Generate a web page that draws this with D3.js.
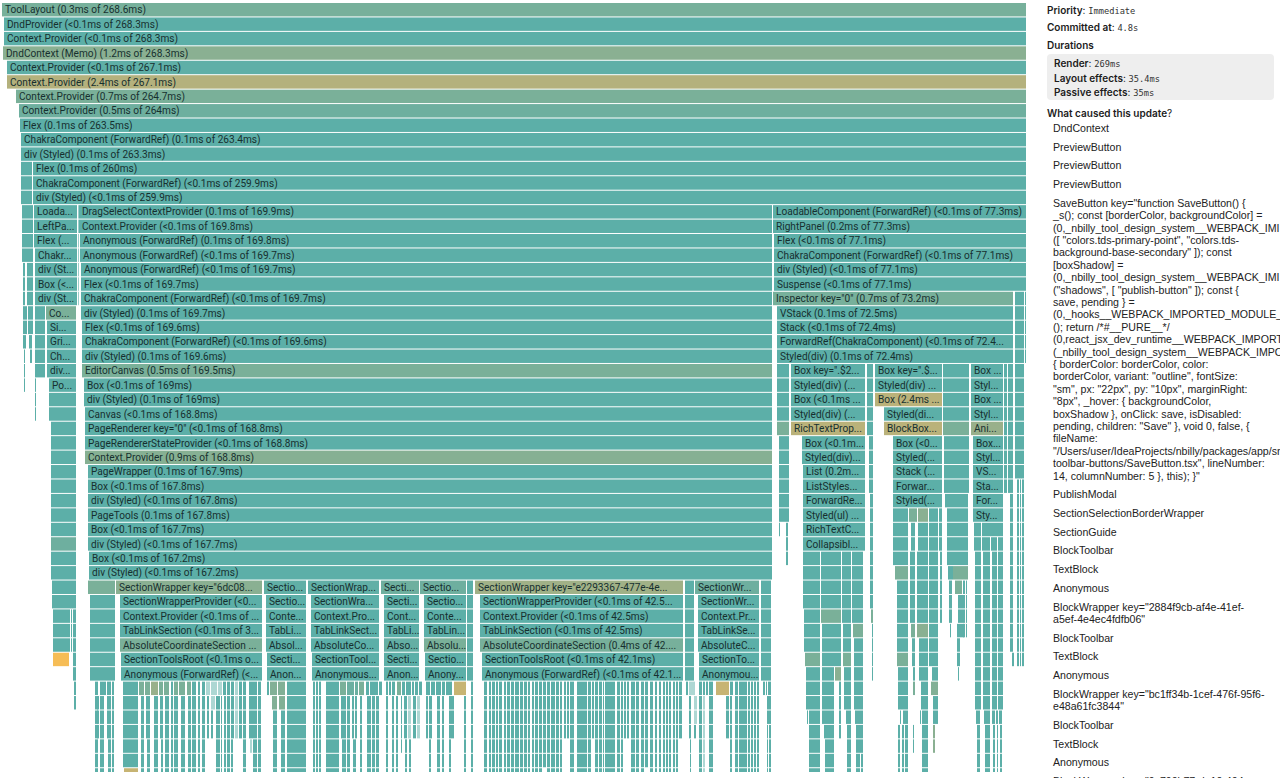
<!DOCTYPE html>
<html>
<head>
<meta charset="utf-8">
<script src="https://cdn.jsdelivr.net/npm/d3@7"></script>
<style>
  html, body { margin: 0; padding: 0; background: #fff; overflow: hidden; }
  .frameLabel { font-family: Roboto, "Liberation Sans", sans-serif; font-size: 10.1px; fill: #17302f; }
  .frames { filter: blur(0.3px); }
  .head { font-family: Inter, sans-serif; font-size: 10px; font-weight: 600; fill: #1c1c1c; }
  .mono { font-family: "DejaVu Sans Mono", monospace; font-size: 8.7px; font-weight: 400; fill: #333; }
  .cause { font-family: "Liberation Sans", Arial, sans-serif; font-size: 10.6px; fill: #222; }
</style>
</head>
<body>
<script>
// every frame: [row, start, base time, heat, label]  (base time units: root = 512)
var spineFrames = [
  [0, 0, 512, .18, "ToolLayout (0.3ms of 268.6ms)"],
  [1, 1, 511, 0, "DndProvider (<0.1ms of 268.3ms)"],
  [2, 1, 511, 0, "Context.Provider (<0.1ms of 268.3ms)"],
  [3, .5, 511.5, .3, "DndContext (Memo) (1.2ms of 268.3ms)"],
  [4, 2.5, 509.5, .02, "Context.Provider (<0.1ms of 267.1ms)"],
  [5, 2.5, 509.5, .58, "Context.Provider (2.4ms of 267.1ms)"],
  [6, 7, 505, .2, "Context.Provider (0.7ms of 264.7ms)"],
  [7, 8.5, 503.5, .12, "Context.Provider (0.5ms of 264ms)"],
  [8, 9, 503, 0, "Flex (0.1ms of 263.5ms)"],
  [9, 9.5, 502.5, 0, "ChakraComponent (ForwardRef) (0.1ms of 263.4ms)"],
  [10, 9.5, 502.5, 0, "div (Styled) (0.1ms of 263.3ms)"],
  [11, 15.5, 496.5, 0, "Flex (0.1ms of 260ms)"],
  [12, 15.5, 496.5, 0, "ChakraComponent (ForwardRef) (<0.1ms of 259.9ms)"],
  [13, 15.5, 496.5, 0, "div (Styled) (<0.1ms of 259.9ms)"]
];

var leftPanelFrames = [
  [14, 16, 21.5, 0, "Loada..."],
  [15, 16, 21.5, 0, "LeftPa..."],
  [16, 16, 21.5, 0, "Flex (..."],
  [17, 16.5, 21, 0, "Chakr..."],
  [18, 16.5, 21, 0, "div (St..."],
  [19, 16.5, 21, 0, "Box (<..."],
  [20, 16.5, 21, 0, "div (St..."],
  [21, 22, 15, .2, "Co..."],
  [22, 22.5, 14.5, 0, "Si..."],
  [23, 22.5, 14.5, 0, "Gri..."],
  [24, 22.5, 14.5, 0, "Ch..."],
  [25, 22.5, 14.5, 0, "div..."],
  [26, 23.5, 13.5, 0, "Po..."]
];

var canvasFrames = [
  [14, 38.5, 346.5, 0, "DragSelectContextProvider (0.1ms of 169.9ms)"],
  [15, 38.5, 346.5, 0, "Context.Provider (<0.1ms of 169.8ms)"],
  [16, 39, 346, 0, "Anonymous (ForwardRef) (0.1ms of 169.8ms)"],
  [17, 39, 346, 0, "Anonymous (ForwardRef) (<0.1ms of 169.7ms)"],
  [18, 39.5, 345.5, 0, "Anonymous (ForwardRef) (<0.1ms of 169.7ms)"],
  [19, 39.5, 345.5, 0, "Flex (<0.1ms of 169.7ms)"],
  [20, 39.5, 345.5, 0, "ChakraComponent (ForwardRef) (<0.1ms of 169.7ms)"],
  [21, 39.5, 345.5, 0, "div (Styled) (0.1ms of 169.7ms)"],
  [22, 40, 345, 0, "Flex (<0.1ms of 169.6ms)"],
  [23, 40, 345, 0, "ChakraComponent (ForwardRef) (<0.1ms of 169.6ms)"],
  [24, 40, 345, 0, "div (Styled) (0.1ms of 169.6ms)"],
  [25, 40, 345, .2, "EditorCanvas (0.5ms of 169.5ms)"],
  [26, 41, 344, 0, "Box (<0.1ms of 169ms)"],
  [27, 41, 344, 0, "div (Styled) (0.1ms of 169ms)"],
  [28, 41.5, 343.5, 0, "Canvas (<0.1ms of 168.8ms)"],
  [29, 41.5, 343.5, 0, "PageRenderer key=\"0\" (<0.1ms of 168.8ms)"],
  [30, 41.5, 343.5, 0, "PageRendererStateProvider (<0.1ms of 168.8ms)"],
  [31, 41.5, 343.5, .28, "Context.Provider (0.9ms of 168.8ms)"],
  [32, 43, 342, 0, "PageWrapper (0.1ms of 167.9ms)"],
  [33, 43, 342, 0, "Box (<0.1ms of 167.8ms)"],
  [34, 43, 342, 0, "div (Styled) (<0.1ms of 167.8ms)"],
  [35, 43, 342, 0, "PageTools (0.1ms of 167.8ms)"],
  [36, 43, 342, 0, "Box (<0.1ms of 167.7ms)"],
  [37, 43, 342, 0, "div (Styled) (<0.1ms of 167.7ms)"],
  [38, 43.5, 341.5, 0, "Box (<0.1ms of 167.2ms)"],
  [39, 43.5, 341.5, 0, "div (Styled) (<0.1ms of 167.2ms)"]
];

var sectionFrames = [
  [40, 57, 73, .3, "SectionWrapper key=\"6dc08..."],
  [41, 59, 71, 0, "SectionWrapperProvider (<0..."],
  [42, 59, 71, 0, "Context.Provider (<0.1ms of ..."],
  [43, 59, 71, 0, "TabLinkSection (<0.1ms of 3..."],
  [44, 59, 71, .2, "AbsoluteCoordinateSection ..."],
  [45, 59.5, 70.5, 0, "SectionToolsRoot (<0.1ms o..."],
  [46, 59.5, 70.5, 0, "Anonymous (ForwardRef) (<..."],
  [40, 131, 21, .03, "Sectio..."],
  [41, 132, 20, 0, "Sectio..."],
  [42, 132, 20, 0, "Conte..."],
  [43, 132, 20, 0, "TabLi..."],
  [44, 132, 20, 0, "Absol..."],
  [45, 132.5, 19.5, 0, "Secti..."],
  [46, 132.5, 19.5, 0, "Anon..."],
  [40, 153, 35.5, .03, "SectionWrap..."],
  [41, 154.5, 34, 0, "SectionWra..."],
  [42, 154.5, 34, 0, "Context.Pro..."],
  [43, 154.5, 34, 0, "TabLinkSect..."],
  [44, 154.5, 34, 0, "AbsoluteCo..."],
  [45, 155, 33.5, 0, "SectionTool..."],
  [46, 155, 33.5, 0, "Anonymous..."],
  [40, 189.5, 19, .12, "Secti..."],
  [41, 191, 17.5, 0, "Secti..."],
  [42, 191, 17.5, 0, "Cont..."],
  [43, 191, 17.5, 0, "TabLi..."],
  [44, 191, 17.5, .05, "Abso..."],
  [45, 191, 17.5, 0, "Secti..."],
  [46, 191, 17.5, 0, "Anon..."],
  [40, 209, 23, .12, "Sectio..."],
  [41, 211, 21, 0, "Sectio..."],
  [42, 211, 21, 0, "Conte..."],
  [43, 211, 21, 0, "TabLin..."],
  [44, 211, 21, .2, "Absolu..."],
  [45, 211.5, 20.5, 0, "Sectio..."],
  [46, 211.5, 20.5, 0, "Anony..."],
  [40, 236.5, 104, .45, "SectionWrapper key=\"e2293367-477e-4e..."],
  [41, 239, 101.5, 0, "SectionWrapperProvider (<0.1ms of 42.5..."],
  [42, 239, 101.5, 0, "Context.Provider (<0.1ms of 42.5ms)"],
  [43, 239, 101.5, 0, "TabLinkSection (<0.1ms of 42.5ms)"],
  [44, 239, 101.5, .18, "AbsoluteCoordinateSection (0.4ms of 42...."],
  [45, 240, 100.5, 0, "SectionToolsRoot (<0.1ms of 42.1ms)"],
  [46, 240, 100.5, 0, "Anonymous (ForwardRef) (<0.1ms of 42.1..."],
  [40, 346.5, 32, .12, "SectionWr..."],
  [41, 348, 30.5, 0, "SectionWr..."],
  [42, 348, 30.5, 0, "Context.Pr..."],
  [43, 348, 30.5, 0, "TabLinkSe..."],
  [44, 348, 30.5, 0, "AbsoluteC..."],
  [45, 348.5, 30, 0, "SectionTo..."],
  [46, 348.5, 30, 0, "Anonymou..."]
];

var inspectorFrames = [
  [14, 385.5, 126.5, 0, "LoadableComponent (ForwardRef) (<0.1ms of 77.3ms)"],
  [15, 385.5, 126.5, 0, "RightPanel (0.2ms of 77.3ms)"],
  [16, 386, 126, 0, "Flex (<0.1ms of 77.1ms)"],
  [17, 386, 126, 0, "ChakraComponent (ForwardRef) (<0.1ms of 77.1ms)"],
  [18, 386, 126, 0, "div (Styled) (<0.1ms of 77.1ms)"],
  [19, 386, 126, 0, "Suspense (<0.1ms of 77.1ms)"],
  [20, 385.5, 120, .18, "Inspector key=\"0\" (0.7ms of 73.2ms)"],
  [21, 387.5, 118, 0, "VStack (0.1ms of 72.5ms)"],
  [22, 387.5, 118, 0, "Stack (<0.1ms of 72.4ms)"],
  [23, 387.5, 118, 0, "ForwardRef(ChakraComponent) (<0.1ms of 72.4..."],
  [24, 387.5, 118, 0, "Styled(div) (0.1ms of 72.4ms)"],
  [25, 394.5, 37, 0, "Box key=\".$2..."],
  [26, 394.5, 37, 0, "Styled(div) (..."],
  [27, 394.5, 37, 0, "Box (<0.1ms ..."],
  [28, 394.5, 37, 0, "Styled(div) (..."],
  [29, 394.5, 37, .62, "RichTextProp..."],
  [30, 400, 31.5, 0, "Box (<0.1m..."],
  [31, 400, 31.5, 0, "Styled(div)..."],
  [32, 400.5, 31, 0, "List (0.2m..."],
  [33, 400.5, 31, 0, "ListStyles..."],
  [34, 400.5, 31, 0, "ForwardRe..."],
  [35, 400.5, 31, 0, "Styled(ul) ..."],
  [36, 400.5, 31, 0, "RichTextC..."],
  [37, 400.5, 31, 0, "Collapsibl..."],
  [25, 436.5, 33.5, 0, "Box key=\".$..."],
  [26, 436.5, 33.5, 0, "Styled(div) ..."],
  [27, 436.5, 33.5, .62, "Box (2.4ms ..."],
  [28, 441, 29, 0, "Styled(di..."],
  [29, 441, 29, .62, "BlockBox..."],
  [30, 445.5, 24.5, 0, "Box (<0..."],
  [31, 445.5, 24.5, 0, "Styled(..."],
  [32, 445.5, 24.5, 0, "Stack (..."],
  [33, 445.5, 24.5, 0, "Forwar..."],
  [34, 445.5, 24.5, 0, "Styled(..."],
  [25, 484.5, 16, 0, "Box ..."],
  [26, 484.5, 16, 0, "Styl..."],
  [27, 484.5, 16, 0, "Box ..."],
  [28, 484.5, 16, 0, "Styl..."],
  [29, 484.5, 16, .4, "Ani..."],
  [30, 485.5, 15, 0, "Box..."],
  [31, 485.5, 15, 0, "Styl..."],
  [32, 485.5, 15, 0, "VS..."],
  [33, 485.5, 15, 0, "Sta..."],
  [34, 485.5, 15, 0, "For..."],
  [35, 485.5, 15, 0, "Sty..."]
];

// frames too narrow for a label: [first row, last row, start, base time, heat]
var leftStubs = [
  [11, 13, 9.5, 5.5], [14, 17, 10, 5.5], [18, 20, 10.5, 1], [18, 20, 12.5, 3],
  [21, 22, 10.5, 2], [21, 22, 13, 2.5], [23, 23, 10.5, 1.5], [23, 23, 13.5, 1.5],
  [24, 26, 11, .5], [24, 24, 14, 1], [21, 25, 16.5, 5], [26, 28, 16.5, .5],
  [27, 28, 23.5, 13.5], [29, 36, 24.5, 12.5], [37, 37, 24.5, 12.5, .12], [38, 39, 24.5, 12.5],
  [40, 41, 25, 12], [42, 44, 25.5, 8.5], [42, 44, 34.5, .5], [42, 46, 35.5, 1.5],
  [47, 48, 36, 1], [45, 45, 25.5, 8, 1],
  [14, 20, 38, .3], [40, 40, 43, 13.5, .2], [41, 46, 44, 12.5], [40, 46, 232.5, 3],
  [40, 46, 341.5, 4.5], [40, 46, 379.5, 5]
];

var sectionOneComb = [
  [47, 53, 46.5, 1.5], [48, 50, 47.5, 1], [47, 53, 49, 2], [47, 47, 51, 1], [47, 50, 52.5, 2],
  [51, 53, 53, 1.5], [47, 53, 55, 1],
  [47, 52, 60.5, 7.5], [53, 53, 61, 7, .7],
  [47, 47, 68.5, 2.5, .2], [48, 53, 69.5, 1.5], [47, 47, 71.5, 2.5, .2], [48, 50, 72, 2], [51, 53, 72.5, 1.5],
  [47, 47, 74.5, 3.5, .4], [48, 53, 76, 2], [47, 47, 78.5, 2, .2], [48, 50, 79, 1.5], [51, 53, 79.5, 1],
  [47, 47, 81, 2.5, .2], [48, 53, 81.5, 2], [47, 53, 84.5, 1], [47, 47, 86, 2, .2], [48, 53, 86, 2],
  [47, 47, 88.5, 3, .2], [48, 53, 89.5, 2], [47, 47, 92.5, 2, .2], [48, 53, 93, 1.5],
  [47, 53, 95, 2], [47, 53, 98, 1], [47, 53, 100, 1.5],
  [48, 50, 102.5, 1], [49, 50, 104.5, 1], [48, 53, 107, 2], [48, 53, 109.5, .5], [48, 53, 111, 1],
  [47, 53, 112.5, 1.5], [47, 50, 114.5, 1.5], [51, 53, 114.5, 1], [47, 47, 110.5, 1.5],
  [47, 50, 118.5, 1.5], [47, 53, 120.5, 1.5], [47, 50, 123.5, 4], [51, 53, 125.5, 2], [47, 53, 128, 1.5],
  [47, 47, 132.5, 1], [47, 47, 134, 3.5, .25], [47, 47, 138, 3.5, .25], [47, 53, 142.5, 9.5],
  [48, 48, 135, 2.5, .25], [48, 48, 138.5, 3, .25], [49, 53, 135.5, 2], [49, 53, 139.5, 2]
];

var sectionTwoComb = [
  [47, 53, 155.5, 1], [47, 53, 157, 1], [47, 53, 158.5, 1], [47, 53, 162, 6.5],
  [47, 47, 169, 3, .2], [47, 47, 172.5, 2, .1], [47, 47, 174.5, 1.5, .1], [47, 47, 176.5, 1.5, .1],
  [47, 47, 178.5, 2.5, .2], [47, 47, 182, 1.5], [47, 47, 184, 2], [47, 47, 186, 2], [47, 47, 188.5, 1.5],
  [48, 50, 169.5, 2.5], [48, 53, 172.5, 1.5], [48, 50, 175, 1], [48, 50, 176.5, 1], [48, 53, 179, 1],
  [48, 53, 182.5, 2], [48, 53, 185, 1.5], [48, 53, 187, 1.5], [51, 53, 170, 2], [51, 53, 175.5, 1.5],
  [47, 53, 192, 1], [47, 47, 193.5, 1], [47, 47, 195, 1.5], [47, 47, 197.5, 2, .2], [47, 47, 200, 1.5],
  [47, 47, 202, 2.5], [47, 47, 205, 1], [47, 47, 206.5, 1.5], [47, 47, 208.5, 1.5],
  [48, 53, 195, 1], [48, 53, 197, 1], [48, 51, 199.5, .5], [48, 50, 201, 1.5], [51, 53, 201.5, 1],
  [51, 53, 203.5, 1], [48, 50, 205.5, 1.5],
  [47, 47, 212, 2], [47, 47, 214.5, 2], [47, 47, 217, 1], [47, 47, 218, 1.5], [47, 47, 220, 1.5],
  [47, 47, 222, 3], [47, 47, 226, 6, .7], [48, 50, 212, 1], [48, 50, 213.5, 1.5], [48, 53, 217.5, 1.5],
  [48, 53, 220, 1], [48, 50, 223.5, 2.5], [48, 53, 231, 1], [51, 53, 213.5, 1], [51, 53, 223.5, 1],
  [47, 53, 234.5, 1]
];

var sectionThreeComb = [
  [47, 53, 241, 1.5], [47, 53, 243.5, 1], [47, 53, 245, 1.5], [47, 53, 247, 1], [47, 53, 248.5, 1.5],
  [47, 53, 251, 1], [47, 53, 252.5, 1.5], [47, 53, 254.5, 1.5], [47, 53, 256.5, 2], [47, 53, 259, 1.5],
  [47, 53, 261, 1.5], [47, 53, 263, 1], [47, 53, 265, 1], [47, 53, 266.5, 1.5], [47, 53, 268.5, 1.5],
  [47, 52, 270.5, 1.5], [47, 53, 272.5, 1.5], [47, 53, 274.5, 2], [47, 53, 277, 1.5], [47, 53, 279, 1],
  [47, 50, 281, 1], [47, 50, 282.5, 1], [47, 53, 284, 1], [47, 53, 285, 1], [47, 53, 287.5, 5],
  [47, 53, 293, 1.5], [47, 50, 295, 1], [47, 53, 296.5, 1.5], [47, 53, 298.5, 1.5], [47, 53, 300.5, .5],
  [47, 53, 301.5, 5], [47, 53, 307.5, 1.5], [47, 53, 309.5, 1], [47, 50, 311, 1], [47, 50, 312.5, 1],
  [47, 53, 314.5, 2], [47, 53, 317, 1.5], [47, 53, 319.5, 1.5], [47, 52, 321.5, 1.5], [47, 53, 324, 1.5],
  [47, 53, 326.5, 1], [47, 53, 328.5, 1], [47, 53, 330.5, 1], [47, 53, 332, 1], [47, 53, 333.5, 1],
  [47, 53, 335.5, 1], [47, 53, 337, 1], [47, 50, 338.5, 1.5],
  [47, 47, 342, 1], [48, 50, 343.5, 1], [51, 53, 344, .5], [50, 50, 346, 1],
  [47, 53, 348.5, 1.5], [47, 47, 350.5, 1], [47, 47, 352, 1], [47, 53, 353.5, 2], [47, 47, 357, 6.5, .7],
  [47, 47, 364, 1.5], [48, 53, 364, 1], [47, 53, 366.5, 1.5], [47, 53, 368.5, 4], [47, 53, 373, 1],
  [47, 53, 374.5, 1], [47, 53, 376, 1], [47, 53, 377.5, 1], [48, 50, 362, 1.5],
  [47, 47, 380.5, 1], [47, 47, 382, .5], [47, 49, 383, 1.5], [48, 49, 382.5, .5], [50, 53, 382.5, .5], [50, 53, 383.5, 1]
];

// blurred-looking hairline frames, drawn paler
var paleComb = [
  [47, 47, 102, 2], [47, 47, 104.5, 3], [48, 48, 104.5, 2], [47, 47, 108, 2], [47, 47, 116.5, 1.5],
  [48, 50, 116.5, 1.5], [51, 51, 124, 1], [48, 50, 203, 1.5], [48, 50, 207.5, 1.5],
  [47, 47, 343.5, 3], [48, 49, 346, 1.5], [48, 50, 350.5, 1], [51, 53, 350.5, 1]
];

var inspectorStubs = [
  [25, 28, 387.5, 6], [29, 29, 387.5, 6, .2], [30, 35, 388.5, 5], [36, 36, 388.5, .5], [36, 38, 392, 1],
  [38, 41, 400.5, 8.5], [42, 44, 401, 8], [45, 45, 401.5, 7.5, .2], [46, 48, 402, 7], [49, 53, 403.5, 5.5], [49, 49, 402.5, .5],
  [38, 41, 409.5, 10], [42, 42, 409.5, 10, .2], [43, 45, 410, 9.5], [46, 48, 410, 6], [46, 46, 416.5, 3, .3],
  [47, 50, 418.5, 1], [49, 49, 410, 6], [50, 50, 411, 5], [51, 53, 411.5, 4.5],
  [38, 42, 420, 4.5], [43, 44, 420.5, 4], [45, 45, 420.5, 4, .2], [46, 48, 421, 3.5], [49, 49, 422, 2.5], [50, 53, 422.5, 2],
  [38, 42, 425, 5.5], [43, 43, 425.5, 5, .2], [44, 48, 426, 4.5], [49, 49, 426.5, 4], [50, 51, 427, 3.5], [52, 53, 427, 2], [52, 53, 429.5, 1],
  [25, 29, 432.5, 3], [30, 33, 433.5, 2], [34, 41, 434, 1.5], [42, 42, 434.5, 1, .2], [43, 46, 435, .5],
  [35, 38, 445.5, 7.5], [39, 39, 446.5, 6.5, .2], [40, 44, 447.5, 5.5], [45, 45, 447.5, 5.5, .2], [46, 48, 448, 5],
  [49, 49, 449, .5], [49, 49, 450.5, 2.5], [50, 53, 448, 1], [50, 53, 450, 1], [50, 53, 451.5, 1.5],
  [35, 35, 453.5, 4, .2], [36, 37, 454.5, 2], [38, 42, 454, 2.5], [43, 43, 454.5, 2, .2], [44, 45, 455, 1.5],
  [46, 46, 455.5, 1], [47, 47, 455.5, 1, .2], [50, 51, 455.5, .5],
  [35, 35, 458, 5, .3], [36, 37, 458, 5], [38, 42, 457.5, 5.5], [43, 43, 457.5, 5.5, .3], [44, 46, 458.5, 4.5],
  [47, 48, 459.5, 3.5], [49, 49, 459, .5], [49, 53, 460, 3],
  [35, 45, 463.5, 4.5], [46, 46, 465, 3], [47, 47, 464.5, 3.5, .25], [48, 49, 465.5, 2.5], [50, 51, 465.5, 1, .3],
  [35, 37, 468.5, 1.5], [38, 42, 469, 1],
  [25, 28, 470.5, 13], [29, 29, 470.5, 13, .2], [30, 33, 471, 12.5], [34, 34, 471.5, 1], [34, 38, 472.5, 10.5],
  [39, 39, 473, 2.5], [39, 39, 475.5, 7.5, .2], [40, 42, 473.5, 1.5], [40, 40, 476.5, 3.5, .2], [41, 42, 478, 2.5],
  [43, 43, 474, .5], [43, 43, 477.5, 3.5], [44, 45, 477.5, 1.5], [46, 46, 478, .5], [40, 43, 480.5, 1], [40, 43, 482, .5],
  [36, 37, 486, 3.5], [38, 48, 486.5, 3], [49, 49, 487, 2], [50, 53, 487.5, 1.5],
  [36, 36, 490, 10.5], [37, 37, 490, 4], [38, 48, 490.5, 3.5], [49, 49, 491, 3], [50, 53, 491.5, 2.5],
  [37, 37, 494.5, 3], [38, 48, 495, 2.5], [49, 49, 495, 1.5], [50, 53, 495.5, 1],
  [37, 48, 498, 2.5], [49, 49, 497, 1], [50, 53, 497.5, .5], [49, 49, 498.5, 1.5], [50, 53, 499, 1],
  [25, 33, 501, 1.5], [25, 33, 503, 2.5], [34, 44, 504, 1.5], [45, 45, 505, 1],
  [20, 32, 506.5, 4.5], [33, 45, 507.5, 1], [33, 45, 509, .5], [33, 45, 510, 1], [20, 24, 511.5, .5]
];

var commitInfo = [
  ["Priority", "Immediate"],
  ["Committed at", "4.8s"]
];
var durations = [
  ["Render", "269ms"],
  ["Layout effects", "35.4ms"],
  ["Passive effects", "35ms"]
];

// one inner list per update cause, one string per wrapped line
var causes = [
  ["DndContext"],
  ["PreviewButton"],
  ["PreviewButton"],
  ["PreviewButton"],
  ["SaveButton key=\"function SaveButton() {",
   "_s(); const [borderColor, backgroundColor] =",
   "(0,_nbilly_tool_design_system__WEBPACK_IMI",
   "([ \"colors.tds-primary-point\", \"colors.tds-",
   "background-base-secondary\" ]); const",
   "[boxShadow] =",
   "(0,_nbilly_tool_design_system__WEBPACK_IMI",
   "(\"shadows\", [ \"publish-button\" ]); const {",
   "save, pending } =",
   "(0,_hooks__WEBPACK_IMPORTED_MODULE_",
   "(); return /*#__PURE__*/",
   "(0,react_jsx_dev_runtime__WEBPACK_IMPORT",
   "(_nbilly_tool_design_system__WEBPACK_IMPO",
   "{ borderColor: borderColor, color:",
   "borderColor, variant: \"outline\", fontSize:",
   "\"sm\", px: \"22px\", py: \"10px\", marginRight:",
   "\"8px\", _hover: { backgroundColor,",
   "boxShadow }, onClick: save, isDisabled:",
   "pending, children: \"Save\" }, void 0, false, {",
   "fileName:",
   "\"/Users/user/IdeaProjects/nbilly/packages/app/sr",
   "toolbar-buttons/SaveButton.tsx\", lineNumber:",
   "14, columnNumber: 5 }, this); }\""],
  ["PublishModal"],
  ["SectionSelectionBorderWrapper"],
  ["SectionGuide"],
  ["BlockToolbar"],
  ["TextBlock"],
  ["Anonymous"],
  ["BlockWrapper key=\"2884f9cb-af4e-41ef-", "a5ef-4e4ec4fdfb06\""],
  ["BlockToolbar"],
  ["TextBlock"],
  ["Anonymous"],
  ["BlockWrapper key=\"bc1ff34b-1cef-476f-95f6-", "e48a61fc3844\""],
  ["BlockToolbar"],
  ["TextBlock"],
  ["Anonymous"],
  ["BlockWrapper key=\"9c790b77-da10-404a-"]
];

var svg = d3.select("body").append("svg")
    .attr("width", 1280)
    .attr("height", 778)
    .style("display", "block");

svg.append("clipPath").attr("id", "chartClip")
    .append("rect").attr("width", 1040).attr("height", 772);

var chartGroup = svg.append("g").attr("clip-path", "url(#chartClip)");

//Create scale functions
var rowCount = 54;
var rowStep = 14.42;
var xScale = d3.scaleLinear().domain([0, 512]).range([2, 1026]);
var yScale = d3.scaleBand()
    .domain(d3.range(rowCount))
    .range([3, 3 + rowCount * rowStep])
    .paddingInner(1 / rowStep)
    .paddingOuter(0)
    .align(0);
var heatScale = d3.scaleLinear()
    .domain([0, .6, 1])
    .range(["#5cafa8", "#b7b17c", "#f6bd56"]);

//Expand stub and comb runs into one frame per row
function expand(list, pale) {
    var out = [];
    list.forEach(function(d) {
        d3.range(d[0], d[1] + 1).forEach(function(row) {
            out.push({row: row, start: d[2], time: d[3], heat: d[4] || 0, pale: pale});
        });
    });
    return out;
}

var labelled = [].concat(spineFrames, leftPanelFrames, canvasFrames, sectionFrames, inspectorFrames)
    .map(function(d) {
        return {row: d[0], start: d[1], time: d[2], heat: d[3], label: d[4]};
    });

var frames = labelled.concat(
    expand(leftStubs), expand(sectionOneComb), expand(sectionTwoComb),
    expand(sectionThreeComb), expand(inspectorStubs), expand(paleComb, true));

chartGroup.append("g").attr("class", "frames").selectAll("rect")
    .data(frames)
    .enter()
    .append("rect")
    .attr("x", d => xScale(d.start))
    .attr("y", d => yScale(d.row))
    .attr("width", d => xScale(d.start + d.time) - xScale(d.start))
    .attr("height", yScale.bandwidth())
    .attr("fill", d => heatScale(d.heat))
    .attr("fill-opacity", d => d.pale ? .5 : 1);

chartGroup.append("g").selectAll("text")
    .data(labelled)
    .enter()
    .append("text")
    .attr("class", "frameLabel")
    .attr("x", d => xScale(d.start) + 3)
    .attr("y", d => yScale(d.row) + yScale.bandwidth() / 2)
    .attr("dy", "0.36em")
    .text(d => d.label);

//Side panel
var panel = svg.append("g").attr("transform", "translate(1047,0)");

function labelValue(g, y, pair) {
    var t = g.append("text").attr("class", "head").attr("y", y);
    t.append("tspan").text(pair[0]);
    t.append("tspan").style("font-weight", 400).text(": ");
    t.append("tspan").attr("class", "mono").text(pair[1]);
}

labelValue(panel, 14, commitInfo[0]);
labelValue(panel, 31, commitInfo[1]);

panel.append("text").attr("class", "head").attr("y", 49).text("Durations");

panel.append("rect")
    .attr("x", 0).attr("y", 54)
    .attr("width", 227).attr("height", 46)
    .attr("rx", 4)
    .attr("fill", "#eeeeee");

durations.forEach(function(d, i) {
    labelValue(panel.append("g").attr("transform", "translate(7,0)"), 67 + i * 14.5, d);
});

var caused = panel.append("text").attr("class", "head").attr("y", 117);
caused.append("tspan").text("What caused this update");
caused.append("tspan").style("font-weight", 400).text("?");

var lineY = 132;
causes.forEach(function(lines) {
    lines.forEach(function(line, i) {
        panel.append("text")
            .attr("class", "cause")
            .attr("x", 6)
            .attr("y", lineY)
            .text(line);
        lineY += 12.4;
    });
    lineY += 6.3;
});
</script>
</body>
</html>
